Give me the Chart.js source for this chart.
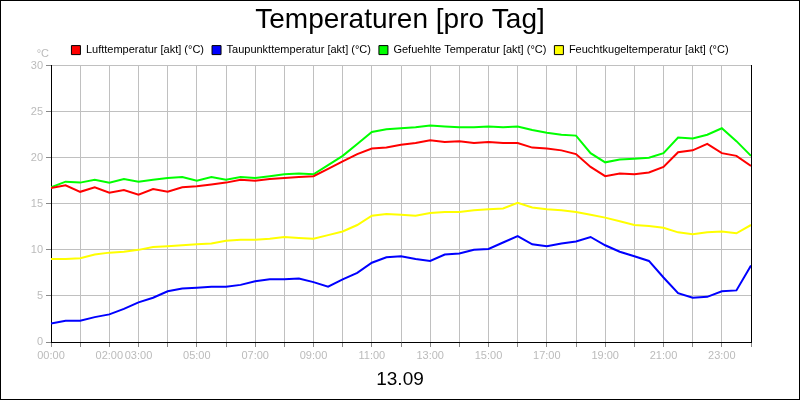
<!DOCTYPE html>
<html>
<head>
<meta charset="utf-8">
<script src="https://cdn.jsdelivr.net/npm/chart.js@4"></script>
<style>
  body { margin: 0; background: #fff; }
  #wrap { width: 798px; height: 398px; border: 1px solid #000; }
</style>
</head>
<body>
<div id="wrap"><canvas id="chart" width="798" height="398"></canvas></div>
<script>
const hours = [0,0.5,1,1.5,2,2.5,3,3.5,4,4.5,5,5.5,6,6.5,7,7.5,8,8.5,9,9.5,10,10.5,11,11.5,12,12.5,13,13.5,14,14.5,15,15.5,16,16.5,17,17.5,18,18.5,19,19.5,20,20.5,21,21.5,22,22.5,23,23.5,24];
const luft = [16.7,17.0,16.3,16.8,16.2,16.5,16.0,16.6,16.3,16.8,16.9,17.1,17.3,17.6,17.5,17.7,17.8,17.9,18.0,18.8,19.6,20.4,21.0,21.1,21.4,21.6,21.9,21.7,21.8,21.6,21.7,21.6,21.6,21.1,21.0,20.8,20.4,19.0,18.0,18.3,18.2,18.4,19.0,20.6,20.8,21.5,20.5,20.2,19.1];
const taupunkt = [2.0,2.3,2.3,2.7,3.0,3.6,4.3,4.8,5.5,5.8,5.9,6.0,6.0,6.2,6.6,6.8,6.8,6.9,6.5,6.0,6.8,7.5,8.6,9.2,9.3,9.0,8.8,9.5,9.6,10.0,10.1,10.8,11.5,10.6,10.4,10.7,10.9,11.4,10.5,9.8,9.3,8.8,7.0,5.3,4.8,4.9,5.5,5.6,8.3];
const gefuehlt = [16.8,17.4,17.3,17.6,17.3,17.7,17.4,17.6,17.8,17.9,17.5,17.9,17.6,17.9,17.8,18.0,18.2,18.3,18.2,19.2,20.2,21.5,22.8,23.1,23.2,23.3,23.5,23.4,23.3,23.3,23.4,23.3,23.4,23.0,22.7,22.5,22.4,20.5,19.5,19.8,19.9,20.0,20.5,22.2,22.1,22.5,23.2,21.8,20.2];
const feucht = [9.0,9.0,9.1,9.5,9.7,9.8,10.0,10.3,10.4,10.5,10.6,10.7,11.0,11.1,11.1,11.2,11.4,11.3,11.2,11.6,12.0,12.7,13.7,13.9,13.8,13.7,14.0,14.1,14.1,14.3,14.4,14.5,15.1,14.6,14.4,14.3,14.1,13.8,13.5,13.1,12.7,12.6,12.4,11.9,11.7,11.9,12.0,11.8,12.7];
const tickHours = [0,2,3,5,7,9,11,13,15,17,19,21,23];

Chart.defaults.font.family = 'Arial, "Liberation Sans", sans-serif';
Chart.defaults.animation = false;

function series(label, values, color) {
  return {
    label: label,
    data: hours.map((h, i) => ({ x: h, y: values[i] })),
    borderColor: color,
    backgroundColor: color,
    borderWidth: 2,
    pointRadius: 0,
    tension: 0
  };
}

// °C label above the y axis
const unitLabel = {
  id: 'unitLabel',
  afterDraw(chart) {
    const c = chart.ctx;
    const y = chart.scales.y;
    c.save();
    c.fillStyle = '#bbb';
    c.font = '11px Arial, "Liberation Sans", sans-serif';
    c.textAlign = 'right';
    c.fillText('°C', y.right - 2, y.top - 12);
    c.restore();
  }
};

new Chart(document.getElementById('chart'), {
  type: 'line',
  data: {
    datasets: [
      series('Lufttemperatur [akt] (°C)', luft, '#ff0000'),
      series('Taupunkttemperatur [akt] (°C)', taupunkt, '#0000ff'),
      series('Gefuehlte Temperatur [akt] (°C)', gefuehlt, '#00ff00'),
      series('Feuchtkugeltemperatur [akt] (°C)', feucht, '#ffff00')
    ]
  },
  options: {
    responsive: false,
    layout: { padding: 0 },
    plugins: {
      title: {
        display: true,
        text: 'Temperaturen [pro Tag]',
        color: '#000',
        font: { size: 28, weight: 'normal' },
        padding: { top: 2, bottom: 0 }
      },
      subtitle: {
        display: true,
        position: 'bottom',
        text: '13.09',
        color: '#000',
        font: { size: 19, weight: 'normal' },
        padding: { top: 4, bottom: 8 }
      },
      legend: {
        labels: {
          boxWidth: 9, boxHeight: 9, color: '#000',
          font: { size: 11 }, padding: 8,
          generateLabels(chart) {
            return chart.data.datasets.map((d, i) => ({
              text: d.label, fillStyle: d.borderColor, strokeStyle: '#000',
              lineWidth: 1, datasetIndex: i, hidden: false
            }));
          }
        }
      },
      tooltip: { enabled: false }
    },
    scales: {
      x: {
        type: 'linear', min: 0, max: 24,
        afterBuildTicks(scale) {
          scale.ticks = hours.filter(h => Number.isInteger(h)).map(v => ({ value: v }));
        },
        grid: { color: '#c0c0c0', tickLength: 5, tickColor: '#888' },
        border: { color: '#000' },
        ticks: {
          autoSkip: false, maxRotation: 0, color: '#bbb', font: { size: 11 }, padding: 2,
          callback: v => tickHours.includes(v) ? String(v).padStart(2, '0') + ':00' : ''
        }
      },
      y: {
        min: 0, max: 30,
        afterFit(scale) { scale.width = 50; },
        grid: { color: '#c0c0c0', tickLength: 5, tickColor: '#888' },
        border: { color: '#000' },
        ticks: { stepSize: 5, color: '#bbb', font: { size: 11 }, padding: 3 }
      },
      y2: {
        position: 'right', min: 0, max: 30,
        afterFit(scale) { scale.width = 48; },
        grid: { display: false, drawTicks: false },
        border: { color: '#000' },
        ticks: { display: false }
      }
    }
  },
  plugins: [unitLabel]
});
</script>
</body>
</html>
